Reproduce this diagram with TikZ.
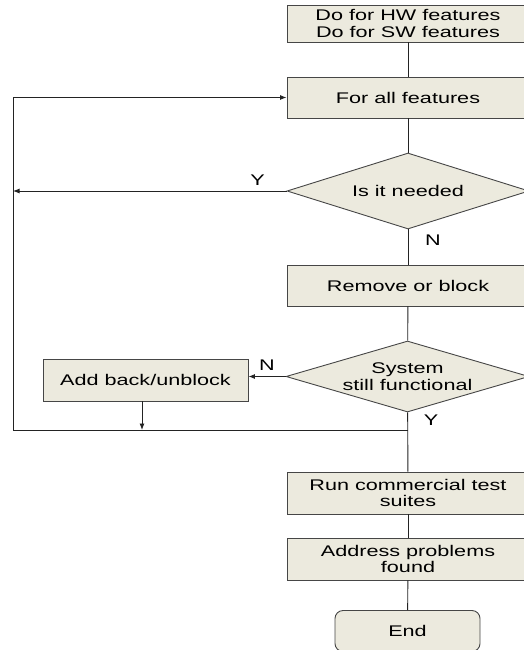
\documentclass[tikz,border=0pt]{standalone}
\usepackage{fontspec}
\setmainfont{Liberation Sans}
\usetikzlibrary{shapes.geometric,arrows.meta}
\definecolor{boxfill}{RGB}{236,234,222}
\definecolor{edge}{RGB}{70,70,70}
\definecolor{wire}{RGB}{35,35,35}
% wide, cap-centred text block
\newcommand{\wtext}[1]{\raisebox{0pt}[\height][\dimexpr\depth-4.5bp\relax]{\scalebox{1.4}[1]{\begin{tabular}{@{}c@{}}#1\end{tabular}}}}
\begin{document}
\begin{tikzpicture}[x=1bp,y=-1bp,
  txt/.style={inner sep=0pt, font=\fontsize{15.5}{16.5}\selectfont},
  stepbox/.style={txt, rectangle, draw=edge, fill=boxfill, line width=0.9bp, minimum width=242bp},
  decision/.style={diamond, draw=edge, fill=boxfill, line width=0.9bp, inner sep=0pt},
  wire/.style={draw=wire, line width=0.9bp},
  >={Latex[length=6.5bp,width=5bp]}]
\useasboundingbox (0,0) rectangle (524,650);
\clip (0,0) rectangle (524,650);

% process boxes and decisions
\node[stepbox, minimum height=37bp] (hwsw) at (408,23.5) {\wtext{Do for HW features\\Do for SW features}};
\node[stepbox, minimum height=41bp] (all) at (408,97.5) {\wtext{For all features}};
\node[decision, minimum width=242bp, minimum height=76bp] (need) at (408,191) {};
\node[txt] (needt) at (need.center) {\wtext{Is it needed}};
\node[stepbox, minimum height=41bp] (remove) at (408,285.5) {\wtext{Remove or block}};
\node[decision, minimum width=243bp, minimum height=71bp] (func) at (407.5,376.5) {};
\node[txt] (funct) at (func.center) {\wtext{System\\still functional}};
\node[stepbox, minimum width=205bp, minimum height=42bp] (add) at (145.5,380) {\wtext{Add back/unblock}};
\node[stepbox, minimum height=42bp] (run) at (408,493) {\wtext{Run commercial test\\suites}};
\node[stepbox, minimum height=42bp] (fix) at (408,559) {\wtext{Address problems\\found}};
\node[stepbox, rounded corners=8bp, minimum width=145bp, minimum height=41bp] (end) at (407.5,631) {\wtext{End}};

% loop-back points
\coordinate (loopL) at (13,430);
\coordinate (join) at (408,430);
\coordinate (drop) at (142,430);

% main flow
\draw[wire] (hwsw) -- (all);
\draw[wire] (all) -- (need);
\draw[wire] (need) -- (remove);
\draw[wire] (remove) -- (func);
\draw[wire] (func) -- (run);
\draw[wire] (run) -- (fix);
\draw[wire] (fix) -- (end);

% branches
\draw[wire,->] (need.west) -- (need.west -| loopL);
\draw[wire,->] (func.west) -- (func.west -| add.east);
\draw[wire,->] (add.south -| drop) -- (drop);
\draw[wire,->] (join) -- (loopL) -- (loopL |- all.west) -- (all.west);

% branch labels
\node[txt] (lblY1) at (257.5,179.5) {\wtext{Y}};
\node[txt] (lblN1) at (433,240) {\wtext{N}};
\node[txt] (lblN2) at (267,365) {\wtext{N}};
\node[txt] (lblY2) at (431,419.5) {\wtext{Y}};
\end{tikzpicture}
\end{document}
